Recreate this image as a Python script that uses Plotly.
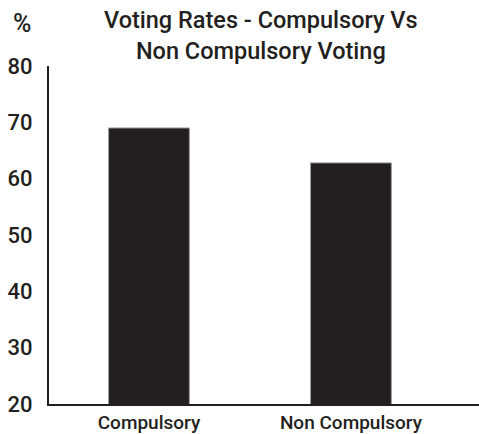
import plotly.graph_objects as go

# Voting turnout by system type (%)
categories = ["Compulsory", "Non Compulsory"]
turnout = [69.0, 62.8]
y_ticks = [20, 30, 40, 50, 60, 70, 80]

ink = "#231f20"
font_family = "Roboto, 'DejaVu Sans', sans-serif"

# plot area in pixels
W, H = 479, 434
L, R, T, B = 49, 0, 66, 27
plot_w = W - L - R
plot_h = H - T - B


def px_x(x):
    return (x - L) / plot_w


def px_y(y):
    return (H - B - y) / plot_h


fig = go.Figure(
    go.Bar(
        x=categories,
        y=turnout,
        width=0.4,
        marker=dict(color=ink, line=dict(color="#9a9a9a", width=1)),
    )
)

fig.update_layout(
    width=W,
    height=H,
    margin=dict(l=L, r=R, t=T, b=B),
    paper_bgcolor="white",
    plot_bgcolor="white",
    showlegend=False,
    font=dict(family=font_family, color=ink),
    annotations=[
        dict(
            text="Voting Rates - Compulsory Vs<br>Non Compulsory Voting",
            xref="paper",
            yref="paper",
            x=px_x(261),
            y=px_y(35),
            showarrow=False,
            xanchor="center",
            yanchor="middle",
            align="center",
            font=dict(size=23.5, color=ink, family=font_family, weight=500),
        ),
        dict(
            text="%",
            xref="paper",
            yref="paper",
            x=px_x(22),
            y=px_y(23),
            showarrow=False,
            xanchor="center",
            yanchor="middle",
            font=dict(size=25, color=ink, family=font_family, weight=500),
        ),
    ],
)

fig.update_xaxes(
    range=[-0.495, 1.634],
    showline=True,
    linecolor=ink,
    linewidth=2,
    showgrid=False,
    ticks="",
    tickfont=dict(size=19, color=ink, family=font_family, weight=500),
    fixedrange=True,
)
fig.update_yaxes(
    range=[20, 80],
    tickvals=y_ticks,
    showline=True,
    linecolor=ink,
    linewidth=2,
    showgrid=False,
    zeroline=False,
    ticks="",
    ticklabelstandoff=10,
    tickfont=dict(size=22, color=ink, family=font_family, weight=500),
    fixedrange=True,
)

fig.write_html("out.html")
